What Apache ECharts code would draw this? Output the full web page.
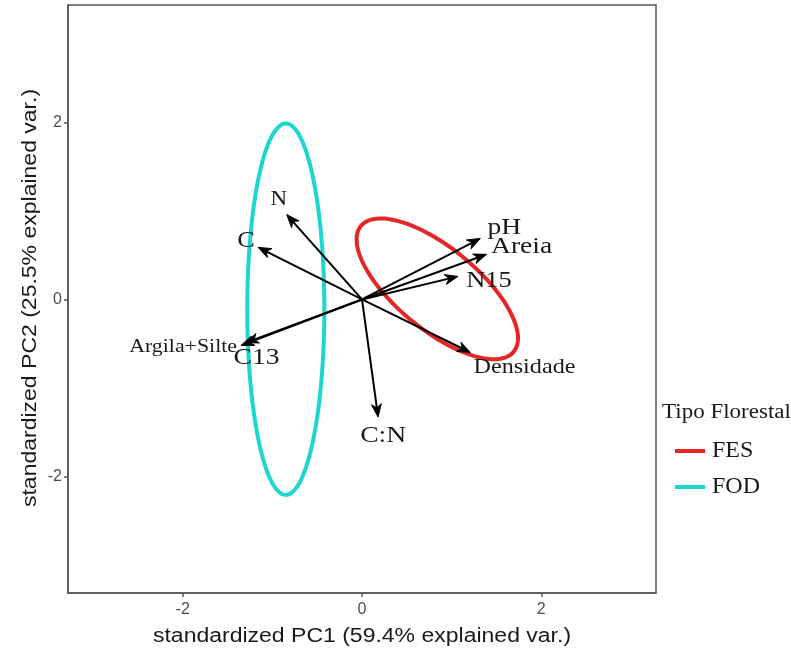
<!DOCTYPE html>
<html>
<head>
<meta charset="utf-8">
<script src="https://cdn.jsdelivr.net/npm/echarts@6/dist/echarts.min.js"></script>
<style>
  html, body { margin: 0; padding: 0; background: #ffffff; }
  #chart { width: 791px; height: 655px; }
</style>
</head>
<body>
<div id="chart"></div>
<script>
// Variable loadings on the first two standardized components (arrow tips)
const variables = ['N', 'C', 'pH', 'Areia', 'N15', 'Densidade', 'Argila+Silte', 'C13', 'C:N'];
const loadPC1 = [-0.84, -1.16, 1.32, 1.39, 1.07, 1.21, -1.35, -1.30, 0.18];
const loadPC2 = [0.96, 0.59, 0.69, 0.51, 0.26, -0.60, -0.52, -0.49, -1.33];

// Normal ellipses for each forest type: centre, semi-axes, rotation (degrees)
const groups = ['FES', 'FOD'];
const ellCX = [0.84, -0.85];
const ellCY = [0.12, -0.11];
const ellA = [1.11, 0.43];
const ellB = [0.46, 2.10];
const ellRot = [-40, 0];

// Axis ticks
const xTicks = [-2, 0, 2];
const yTicks = [-2, 0, 2];

const xTitle = 'standardized PC1 (59.4% explained var.)';
const yTitle = 'standardized PC2 (25.5% explained var.)';
const legendTitle = 'Tipo Florestal';

const groupColors = { FES: '#e42626', FOD: '#1ed6d0' };

// Label placement around each arrow tip (pixels) and text size
const labelStyle = {
  'N':            { dx: -8,  dy: -15, size: 20, align: 'center' },
  'C':            { dx: -12, dy: -6,  size: 23, align: 'center' },
  'pH':           { dx: 24,  dy: -11, size: 24, align: 'center' },
  'Areia':        { dx: 35,  dy: -8,  size: 24, align: 'center' },
  'N15':          { dx: 31,  dy: 5,   size: 23, align: 'center' },
  'Densidade':    { dx: 54,  dy: 15,  size: 21, align: 'center' },
  'Argila+Silte': { dx: -4,  dy: 2,   size: 19, align: 'right' },
  'C13':          { dx: 11,  dy: 15,  size: 24, align: 'center' },
  'C:N':          { dx: 5,   dy: 19,  size: 24, align: 'center' }
};
const TEXT_STRETCH = 1.15;

const SANS = '"Liberation Sans", Arial, sans-serif';
const SERIF = '"Liberation Serif", "Times New Roman", serif';

function ellipseSeries(gi) {
  return {
    name: groups[gi],
    type: 'custom',
    itemStyle: { color: groupColors[groups[gi]] },
    encode: { x: 0, y: 1 },
    data: [[ellCX[gi], ellCY[gi], ellA[gi], ellB[gi], ellRot[gi]]],
    z: 2,
    renderItem: function (params, api) {
      const cx = api.value(0), cy = api.value(1);
      const a = api.value(2), b = api.value(3);
      const r = api.value(4) * Math.PI / 180;
      const pts = [];
      const n = 180;
      for (let k = 0; k <= n; k++) {
        const t = 2 * Math.PI * k / n;
        const ex = a * Math.cos(t), ey = b * Math.sin(t);
        pts.push(api.coord([
          cx + ex * Math.cos(r) - ey * Math.sin(r),
          cy + ex * Math.sin(r) + ey * Math.cos(r)
        ]));
      }
      return {
        type: 'polyline',
        shape: { points: pts },
        style: { stroke: api.visual('color'), lineWidth: 4, fill: null }
      };
    }
  };
}

const arrowSeries = {
  name: 'loadings',
  type: 'custom',
  encode: { x: 0, y: 1 },
  data: variables.map((v, i) => [loadPC1[i], loadPC2[i]]),
  z: 3,
  renderItem: function (params, api) {
    const name = variables[params.dataIndex];
    const st = labelStyle[name];
    const p0 = api.coord([0, 0]);
    const p1 = api.coord([api.value(0), api.value(1)]);
    const ang = Math.atan2(p1[1] - p0[1], p1[0] - p0[0]);
    const c = Math.cos(ang), s = Math.sin(ang);
    const L = 13, W = 5;
    const bx = p1[0] - L * c, by = p1[1] - L * s;
    const left = [bx + W * s, by - W * c];
    const right = [bx - W * s, by + W * c];
    const notch = [p1[0] - 0.7 * L * c, p1[1] - 0.7 * L * s];
    return {
      type: 'group',
      children: [
        {
          type: 'line',
          shape: { x1: p0[0], y1: p0[1], x2: p1[0] - 4 * c, y2: p1[1] - 4 * s },
          style: { stroke: '#000', lineWidth: 2 }
        },
        {
          type: 'polygon',
          shape: { points: [p1, left, notch, right] },
          style: { fill: '#000', stroke: '#000', lineWidth: 1 }
        },
        {
          type: 'text',
          x: p1[0] + st.dx,
          y: p1[1] + st.dy,
          scaleX: TEXT_STRETCH,
          style: {
            text: name,
            fill: '#1a1a1a',
            font: st.size + 'px ' + SERIF,
            align: st.align,
            verticalAlign: 'middle'
          }
        }
      ]
    };
  }
};

const chart = echarts.init(document.getElementById('chart'), null, { renderer: 'canvas' });

chart.setOption({
  backgroundColor: '#ffffff',
  animation: false,
  grid: {
    left: 68, top: 5, right: 135, bottom: 62,
    show: true, borderColor: '#555555', borderWidth: 1.5, backgroundColor: 'transparent'
  },
  xAxis: {
    type: 'value',
    min: -3.28, max: 3.28,
    splitLine: { show: false },
    axisLine: { show: true, onZero: false, lineStyle: { color: '#555555', width: 1.5 } },
    axisTick: { show: true, customValues: xTicks, length: 4, lineStyle: { color: '#555555', width: 1.5 } },
    axisLabel: { customValues: xTicks, color: '#4d4d4d', fontFamily: SANS, fontSize: 16, margin: 9 }
  },
  yAxis: {
    type: 'value',
    min: -3.32, max: 3.33,
    splitLine: { show: false },
    axisLine: { show: true, onZero: false, lineStyle: { color: '#555555', width: 1.5 } },
    axisTick: { show: true, customValues: yTicks, length: 4, lineStyle: { color: '#555555', width: 1.5 } },
    axisLabel: { customValues: yTicks, color: '#4d4d4d', fontFamily: SANS, fontSize: 16, margin: 6 }
  },
  legend: {
    data: groups.map(g => ({ name: g, icon: 'rect' })),
    orient: 'vertical',
    left: 670,
    top: 434,
    itemWidth: 30,
    itemHeight: 4,
    itemGap: 12,
    selectedMode: false,
    textStyle: { fontFamily: SERIF, fontSize: 24, color: '#1a1a1a', padding: [0, 0, 0, 2] }
  },
  graphic: [
    {
      type: 'text',
      x: 662, y: 413,
      scaleX: TEXT_STRETCH,
      style: { text: legendTitle, font: '20px ' + SERIF, fill: '#1a1a1a', align: 'left', verticalAlign: 'middle' }
    },
    {
      type: 'text',
      x: 362, y: 636,
      scaleX: TEXT_STRETCH,
      style: { text: xTitle, font: '20px ' + SANS, fill: '#1a1a1a', align: 'center', verticalAlign: 'middle' }
    },
    {
      type: 'text',
      x: 30, y: 298,
      rotation: Math.PI / 2,
      scaleX: TEXT_STRETCH,
      style: { text: yTitle, font: '20px ' + SANS, fill: '#1a1a1a', align: 'center', verticalAlign: 'middle' }
    }
  ],
  series: [ellipseSeries(0), ellipseSeries(1), arrowSeries]
});
</script>
</body>
</html>
